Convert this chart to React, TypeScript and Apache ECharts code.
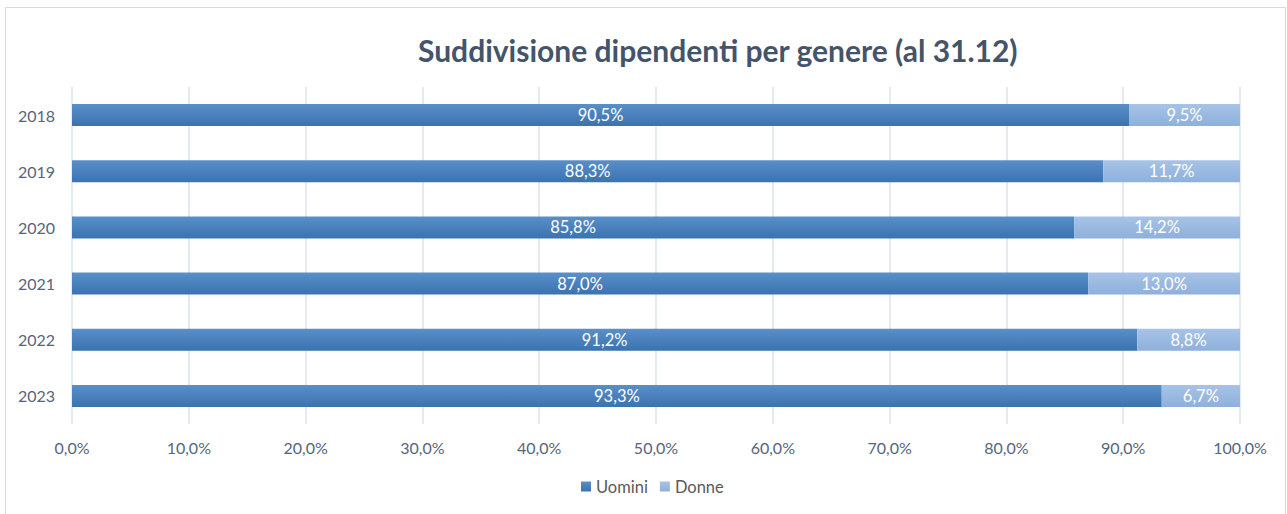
import React, { useEffect, useRef } from "react";
import * as echarts from "echarts";

const years = ["2018", "2019", "2020", "2021", "2022", "2023"];
const uomini = [90.5, 88.3, 85.8, 87.0, 91.2, 93.3];
const donne = [9.5, 11.7, 14.2, 13.0, 8.8, 6.7];
const xTicks = [0, 10, 20, 30, 40, 50, 60, 70, 80, 90, 100];

const fmt = (v: number) => v.toFixed(1).replace(".", ",") + "%";

export default function App() {
  const ref = useRef<HTMLDivElement>(null);
  useEffect(() => {
    if (!ref.current) return;
    const chart = echarts.init(ref.current, undefined, { renderer: "svg" });
    const font = "Lato, 'Open Sans', sans-serif";
    chart.setOption({
      animation: false,
      title: {
        text: "Suddivisione dipendenti per genere (al 31.12)",
        left: 413,
        top: 30,
        textStyle: { fontFamily: font, fontSize: 30, fontWeight: "bold", color: "#44546A" },
      },
      graphic: [
        {
          type: "rect",
          shape: { x: 5.5, y: 7.5, width: 1280, height: 520 },
          style: { fill: "none", stroke: "#D9D9D9", lineWidth: 1 },
          silent: true,
        },
      ],
      legend: {
        bottom: 14,
        left: 576,
        itemWidth: 10,
        itemHeight: 10,
        itemGap: 12,
        icon: "rect",
        textStyle: { fontFamily: font, fontSize: 16.5, color: "#595959" },
        data: ["Uomini", "Donne"],
      },
      grid: { left: 72, right: 47, top: 87, bottom: 90 },
      xAxis: {
        type: "value",
        min: 0,
        max: 100,
        interval: 10,
        axisLine: { show: false },
        axisTick: { show: false },
        splitLine: { lineStyle: { color: "#DDE3EC", width: 1.5 } },
        axisLabel: {
          margin: 15,
          fontFamily: font,
          fontSize: 16,
          color: "#56657A",
          formatter: (v: number) => (xTicks.includes(v) ? fmt(v) : ""),
        },
      },
      yAxis: {
        type: "category",
        data: years,
        inverse: true,
        axisLine: { show: false },
        axisTick: { show: false },
        axisLabel: { margin: 17, fontFamily: font, fontSize: 16, color: "#56657A" },
      },
      series: [
        {
          name: "Uomini",
          type: "bar",
          stack: "t",
          data: uomini,
          barWidth: 22,
          itemStyle: {
            color: new echarts.graphic.LinearGradient(0, 0, 0, 1, [
              { offset: 0, color: "#5A8FC8" },
              { offset: 1, color: "#3A73B0" },
            ]),
          },
          label: {
            show: true,
            position: "inside",
            color: "#FFFFFF",
            fontFamily: font,
            fontSize: 16.5,
            formatter: (p: any) => fmt(p.value),
          },
        },
        {
          name: "Donne",
          type: "bar",
          stack: "t",
          data: donne,
          barWidth: 22,
          itemStyle: {
            color: new echarts.graphic.LinearGradient(0, 0, 0, 1, [
              { offset: 0, color: "#A7C3E6" },
              { offset: 1, color: "#8EB0DC" },
            ]),
          },
          label: {
            show: true,
            position: "inside",
            color: "#FFFFFF",
            fontFamily: font,
            fontSize: 16.5,
            formatter: (p: any) => fmt(p.value),
          },
        },
      ],
    });
    return () => chart.dispose();
  }, []);
  return (
    <div
      ref={ref}
      style={{ position: "absolute", left: 0, top: 0, width: 1287, height: 514, background: "#fff" }}
    />
  );
}
